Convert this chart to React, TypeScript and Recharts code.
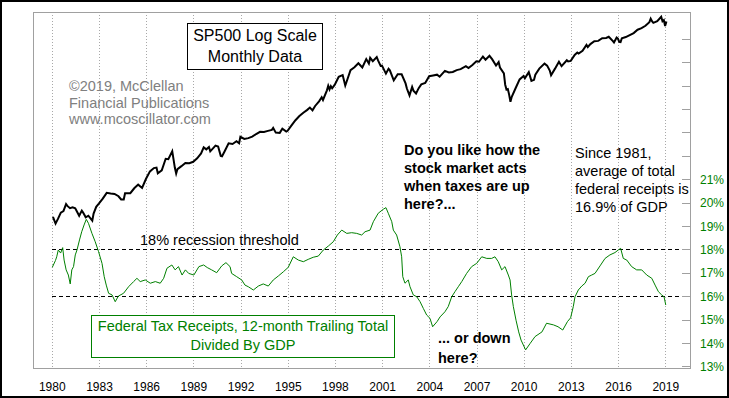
import React from "react"
import {
  LineChart, Line, XAxis, YAxis, CartesianGrid, ReferenceLine, ReferenceArea,
} from "recharts"

const FONT = '"Liberation Sans", Arial, sans-serif'

const yearTicks = [1980, 1983, 1986, 1989, 1992, 1995, 1998, 2001, 2004, 2007, 2010, 2013, 2016, 2019]
const pctTicks = [13, 14, 15, 16, 17, 18, 19, 20, 21, 22, 23, 24, 25, 26, 27]

// SP500 monthly closes (subset of months)
const spxMonths = [
  "1980-01", "1980-03", "1980-05", "1980-07", "1980-09", "1980-11", "1980-12",
  "1981-02", "1981-04", "1981-06", "1981-09", "1981-11", "1981-12",
  "1982-02", "1982-04", "1982-07", "1982-08", "1982-10", "1982-12",
  "1983-03", "1983-06", "1983-09", "1983-12",
  "1984-03", "1984-05", "1984-07", "1984-08", "1984-12",
  "1985-03", "1985-06", "1985-09", "1985-12",
  "1986-03", "1986-06", "1986-08", "1986-09", "1986-12",
  "1987-03", "1987-05", "1987-08", "1987-10", "1987-11", "1987-12",
  "1988-03", "1988-06", "1988-09", "1988-12",
  "1989-03", "1989-06", "1989-08", "1989-10", "1989-12",
  "1990-01", "1990-05", "1990-07", "1990-09", "1990-10", "1990-12",
  "1991-03", "1991-06", "1991-09", "1991-11", "1991-12",
  "1992-03", "1992-06", "1992-09", "1992-12",
  "1993-03", "1993-06", "1993-09", "1993-12",
  "1994-01", "1994-03", "1994-06", "1994-08", "1994-11", "1994-12",
  "1995-03", "1995-06", "1995-09", "1995-12",
  "1996-03", "1996-05", "1996-07", "1996-09", "1996-12",
  "1997-02", "1997-03", "1997-06", "1997-07", "1997-08", "1997-09", "1997-10", "1997-12",
  "1998-03", "1998-06", "1998-08", "1998-09", "1998-12",
  "1999-03", "1999-06", "1999-09", "1999-12",
  "2000-02", "2000-03", "2000-05", "2000-08", "2000-09", "2000-11", "2000-12",
  "2001-03", "2001-05", "2001-06", "2001-09", "2001-12",
  "2002-03", "2002-06", "2002-07", "2002-09", "2002-11", "2002-12",
  "2003-02", "2003-04", "2003-06", "2003-09", "2003-12",
  "2004-03", "2004-06", "2004-08", "2004-12",
  "2005-03", "2005-06", "2005-09", "2005-12",
  "2006-04", "2006-06", "2006-09", "2006-12",
  "2007-02", "2007-05", "2007-07", "2007-10", "2007-12",
  "2008-03", "2008-05", "2008-06", "2008-09", "2008-10", "2008-11", "2008-12",
  "2009-01", "2009-02", "2009-03", "2009-06", "2009-09", "2009-12",
  "2010-01", "2010-04", "2010-06", "2010-08", "2010-09", "2010-12",
  "2011-04", "2011-06", "2011-08", "2011-09", "2011-12",
  "2012-03", "2012-05", "2012-09", "2012-10", "2012-12",
  "2013-03", "2013-05", "2013-06", "2013-09", "2013-12",
  "2014-01", "2014-03", "2014-06", "2014-09", "2014-12",
  "2015-03", "2015-05", "2015-08", "2015-09", "2015-11", "2015-12",
  "2016-01", "2016-02", "2016-03", "2016-06", "2016-09", "2016-12",
  "2017-03", "2017-06", "2017-09", "2017-12",
  "2018-01", "2018-02", "2018-03", "2018-06", "2018-09", "2018-10", "2018-11", "2018-12",
  "2019-01",
]
const spxClose = [
  114, 102, 111, 122, 125, 140, 136,
  131, 133, 131, 116, 126, 122,
  113, 116, 107, 120, 134, 141,
  153, 168, 166, 165,
  159, 151, 151, 167, 167,
  181, 192, 182, 211,
  238, 251, 253, 231, 242,
  292, 290, 330, 252, 230, 247,
  259, 273, 272, 278,
  294, 318, 351, 340, 353,
  329, 361, 356, 306, 304, 330,
  375, 371, 388, 375, 417,
  403, 408, 418, 436,
  452, 451, 459, 466,
  481, 446, 444, 475, 454, 459,
  501, 545, 584, 616,
  645, 669, 640, 687, 741,
  791, 757, 885, 954, 899, 947, 915, 970,
  1102, 1134, 957, 1017, 1229,
  1286, 1373, 1283, 1469,
  1366, 1499, 1421, 1517, 1436, 1315, 1320,
  1160, 1256, 1224, 1041, 1148,
  1147, 990, 912, 815, 936, 880,
  841, 917, 975, 996, 1112,
  1126, 1141, 1104, 1212,
  1181, 1191, 1229, 1248,
  1311, 1270, 1336, 1418,
  1407, 1531, 1455, 1549, 1468,
  1323, 1400, 1280, 1166, 969, 896, 903,
  826, 735, 798, 919, 1057, 1115,
  1074, 1187, 1031, 1049, 1141, 1258,
  1364, 1321, 1219, 1131, 1258,
  1408, 1310, 1441, 1412, 1426,
  1569, 1631, 1606, 1682, 1848,
  1783, 1872, 1960, 1972, 2059,
  2068, 2107, 1972, 1920, 2080, 2044,
  1940, 1932, 2060, 2099, 2168, 2239,
  2363, 2423, 2519, 2674,
  2824, 2714, 2641, 2718, 2914, 2712, 2760, 2507,
  2704,
]

// Federal tax receipts, 12-month trailing total / GDP (%)
const taxYears = [
  1980.0, 1980.2, 1980.28, 1980.38, 1980.53, 1980.66, 1980.75, 1980.88, 1981.02, 1981.14,
  1981.24, 1981.35, 1981.46, 1981.57, 1981.73, 1981.87, 1982.02, 1982.16, 1982.3, 1982.52,
  1982.73, 1982.94, 1983.16, 1983.3, 1983.43, 1983.58, 1983.8, 1984.0, 1984.2, 1984.53,
  1984.85, 1985.17, 1985.38, 1985.59, 1985.91, 1986.23, 1986.55, 1986.86, 1987.08, 1987.29,
  1987.6, 1987.81, 1988.02, 1988.25, 1988.46, 1988.67, 1989.0, 1989.32, 1989.62, 1989.85,
  1990.13, 1990.45, 1990.77, 1991.04, 1991.3, 1991.4, 1991.72, 1992.04, 1992.25, 1992.46,
  1992.78, 1993.1, 1993.41, 1993.73, 1994.05, 1994.37, 1994.69, 1995.0, 1995.32, 1995.64,
  1995.96, 1996.27, 1996.59, 1996.91, 1997.23, 1997.55, 1997.86, 1998.12, 1998.4, 1998.72,
  1999.03, 1999.35, 1999.67, 1999.88, 2000.2, 2000.41, 2000.72, 2001.04, 2001.21, 2001.36,
  2001.58, 2001.68, 2001.89, 2002.1, 2002.21, 2002.28, 2002.42, 2002.63, 2002.74, 2002.95,
  2003.17, 2003.38, 2003.59, 2003.8, 2004.01, 2004.18, 2004.46, 2004.65, 2004.96, 2005.17,
  2005.39, 2005.6, 2005.81, 2006.03, 2006.34, 2006.66, 2006.98, 2007.3, 2007.62, 2007.93,
  2008.14, 2008.35, 2008.57, 2008.78, 2008.99, 2009.1, 2009.2, 2009.31, 2009.48, 2009.65,
  2009.8, 2010.09, 2010.37, 2010.69, 2011.13, 2011.42, 2011.86, 2012.15, 2012.45, 2012.75,
  2012.95, 2013.12, 2013.23, 2013.44, 2013.66, 2013.87, 2014.08, 2014.29, 2014.5, 2014.82,
  2015.14, 2015.45, 2015.77, 2015.98, 2016.13, 2016.3, 2016.52, 2016.83, 2017.15, 2017.47,
  2017.79, 2018.11, 2018.32, 2018.53, 2018.74, 2018.89, 2019.0,
]
const taxPct = [
  17.26, 17.55, 17.71, 18.0, 17.87, 18.1, 17.57, 17.15, 16.93, 16.55,
  17.15, 17.29, 17.79, 18.0, 18.43, 18.78, 19.07, 19.31, 19.14, 18.71,
  18.35, 17.93, 17.43, 16.86, 16.5, 16.15, 16.08, 15.79, 16.03, 16.15,
  16.43, 16.65, 16.79, 16.65, 16.72, 16.58, 16.65, 16.58, 16.79, 17.22,
  17.36, 17.15, 17.29, 16.93, 17.15, 17.0, 16.93, 17.29, 17.36, 17.25,
  17.15, 17.03, 17.32, 17.46, 17.29, 17.0, 16.86, 16.72, 16.5, 16.43,
  16.29, 16.46, 16.55, 16.46, 16.72, 16.89, 17.07, 17.26, 17.71, 17.57,
  17.5, 17.6, 17.69, 17.74, 18.0, 18.17, 18.35, 18.64, 18.85, 18.71,
  18.74, 18.71, 18.64, 18.78, 18.85, 19.21, 19.57, 19.74, 19.81, 19.57,
  19.21, 18.85, 18.64, 18.14, 17.71, 16.86, 16.58, 16.72, 16.43, 16.08,
  16.0, 15.79, 15.5, 15.22, 15.08, 14.72, 14.94, 15.14, 15.36, 15.58,
  16.0, 16.22, 16.43, 16.65, 17.0, 17.29, 17.43, 17.71, 17.64, 17.64,
  17.71, 17.5, 17.15, 17.29, 16.93, 16.72, 16.08, 15.58, 15.0, 14.5,
  14.15, 13.73, 14.0, 14.3, 14.5, 14.87, 14.8, 14.72, 14.58, 14.94,
  15.1, 15.58, 16.0, 16.29, 16.46, 16.58, 16.86, 16.93, 17.0, 17.32,
  17.64, 17.79, 17.89, 18.0, 18.07, 17.64, 17.57, 17.29, 17.15, 17.15,
  16.93, 16.79, 16.5, 16.22, 16.08, 16.0, 15.65,
]

const X_MIN = 1978.773
const X_MAX = 2020.54
const PCT_MIN = 12.957
const PCT_MAX = 28.171

const toYear = (m: string) => {
  const [y, mo] = m.split("-").map(Number)
  return y + (mo - 0.5) / 12
}

const rows: { t: number; spx?: number; tax?: number }[] = [
  ...spxMonths.map((m, i) => ({ t: toYear(m), spx: spxClose[i] })),
  ...taxYears.map((t, i) => ({ t, tax: taxPct[i] })),
].sort((a, b) => a.t - b.t)

const PctTick = (props: any) => {
  const { x, y, payload } = props
  const v = payload.value
  return (
    <g>
      <line x1={x - 18} x2={x - 10} y1={y} y2={y} stroke="#a0a0a0" shapeRendering="crispEdges" />
      {v <= 21 && (
        <text x={x} y={y} dy={4} fill="#008000" fontSize={12} fontFamily={FONT}>
          {v}%
        </text>
      )}
    </g>
  )
}

const abs = (left: number, top: number, extra: React.CSSProperties = {}): React.CSSProperties => ({
  position: "absolute", left, top, fontFamily: FONT, whiteSpace: "nowrap", ...extra,
})

export default function App() {
  return (
    <div style={{ position: "absolute", left: 0, top: 0, width: 729, height: 398, background: "#fff", overflow: "hidden" }}>
      <LineChart width={729} height={398} data={rows} margin={{ top: 12, right: 0, bottom: 0, left: 33 }}>
        <CartesianGrid
          yAxisId="pct" horizontal={false} stroke="#a8a8a8" strokeDasharray="1 2"
          shapeRendering="crispEdges"
        />
        <XAxis
          dataKey="t"
          type="number"
          domain={[X_MIN, X_MAX]}
          ticks={yearTicks}
          interval={0}
          allowDataOverflow
          height={30}
          axisLine={false}
          tickLine={false}
          tickMargin={8}
          tick={{ fontSize: 12, fill: "#000", fontFamily: FONT }}
        />
        <YAxis
          yAxisId="pct"
          orientation="right"
          type="number"
          domain={[PCT_MIN, PCT_MAX]}
          allowDataOverflow
          ticks={pctTicks}
          interval={0}
          width={39}
          axisLine={false}
          tickLine={false}
          tickSize={10}
          tickMargin={0}
          tick={PctTick}
        />
        <YAxis yAxisId="spx" hide scale="log" type="number" domain={[9.83, 3150]} allowDataOverflow />
        <ReferenceArea
          yAxisId="pct" x1={X_MIN} x2={X_MAX} y1={PCT_MIN} y2={PCT_MAX}
          fill="#fff" fillOpacity={0} stroke="#a0a0a0" strokeOpacity={1} ifOverflow="visible"
          shapeRendering="crispEdges"
        />
        <ReferenceLine
          yAxisId="pct" segment={[{ x: 1980, y: 18 }, { x: 2020.1, y: 18 }]}
          stroke="#000" strokeOpacity={1} strokeDasharray="4 3" shapeRendering="crispEdges"
        />
        <ReferenceLine
          yAxisId="pct" segment={[{ x: 1980, y: 16 }, { x: 2020.1, y: 16 }]}
          stroke="#000" strokeOpacity={1} strokeDasharray="4 3" shapeRendering="crispEdges"
        />
        <Line
          yAxisId="spx" dataKey="spx" type="linear" stroke="#000" strokeWidth={2}
          dot={false} connectNulls isAnimationActive={false}
        />
        <Line
          yAxisId="pct" dataKey="tax" type="linear" stroke="#008000" strokeWidth={1}
          dot={false} connectNulls isAnimationActive={false}
        />
      </LineChart>

      <div style={abs(187, 23, {
        width: 134, height: 44, border: "1px solid #000", background: "#fff",
        textAlign: "center", fontSize: 16, lineHeight: "21px", paddingTop: 1, boxSizing: "content-box",
      })}>
        <div>SP500 Log Scale</div>
        <div>Monthly Data</div>
      </div>

      <div style={abs(69, 78, { fontSize: 14.5, lineHeight: "16.5px", color: "#808080" })}>
        <div>©2019, McClellan</div>
        <div>Financial Publications</div>
        <div>www.mcoscillator.com</div>
      </div>

      <div style={abs(404, 141, { fontSize: 14.5, lineHeight: "18px", fontWeight: "bold", color: "#000" })}>
        <div>Do you like how the</div>
        <div>stock market acts</div>
        <div>when taxes are up</div>
        <div>here?...</div>
      </div>

      <div style={abs(575, 144, { fontSize: 14.5, lineHeight: "18px", color: "#000" })}>
        <div>Since 1981,</div>
        <div>average of total</div>
        <div>federal receipts is</div>
        <div>16.9% of GDP</div>
      </div>

      <div style={abs(140, 231, { fontSize: 14.5, lineHeight: "18px", color: "#000" })}>
        18% recession threshold
      </div>

      <div style={abs(91, 315, {
        width: 302, height: 40, border: "1px solid #008000", background: "#fff",
        textAlign: "center", fontSize: 14.5, lineHeight: "19px", paddingTop: 1, color: "#008000",
        boxSizing: "content-box",
      })}>
        <div>Federal Tax Receipts, 12-month Trailing Total</div>
        <div>Divided By GDP</div>
      </div>

      <div style={abs(438, 328, { fontSize: 14.5, lineHeight: "20px", fontWeight: "bold", color: "#000" })}>
        <div>... or down</div>
        <div>here?</div>
      </div>

      <div style={{
        position: "absolute", left: 0, top: 0, width: 729, height: 398,
        border: "2px solid #000", boxSizing: "border-box", pointerEvents: "none",
      }} />
    </div>
  )
}
